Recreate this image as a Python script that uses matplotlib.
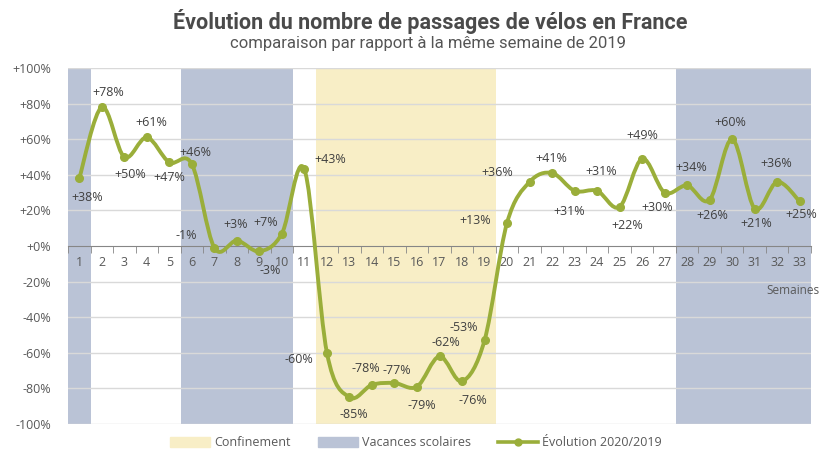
import numpy as np
import matplotlib
matplotlib.use('Agg')
import matplotlib.pyplot as plt
from matplotlib.path import Path
from matplotlib.patches import PathPatch, Patch
from matplotlib.lines import Line2D

weeks = list(range(1, 34))
evolution = [38, 78, 50, 61, 47, 46, -1, 3, -3, 7, 43, -60, -85, -78, -77, -79, -62,
             -76, -53, 13, 36, 41, 31, 31, 22, 49, 30, 34, 26, 60, 21, 36, 25]
vacances = [(1, 1), (6, 10), (28, 33)]
confinement = [(12, 19)]

# label offsets in pixels (dx, dy)
offsets = [(8, -19), (6, 15), (6, -18), (5, 15), (0, -15), (4, 12), (-28, 12), (-1, 16),
           (11, -19), (-16, 11), (26, 10), (-28, -7), (4, -17), (-6, 16), (2, 13), (5, -19),
           (6, 14), (11, -19), (-21, 13), (-32, 2), (-32, 9), (-1, 15), (-5, -21), (4, 19),
           (8, -19), (0, 23), (-7, -15), (4, 18), (3, -16), (-2, 17), (2, -15), (-1, 18),
           (2, -13)]

GREEN = '#9aae3a'
BLUE = '#bac3d6'
YELLOW = '#f8eec6'
GREY = '#595959'
FONT = ['Open Sans', 'DejaVu Sans']
plt.rcParams['font.family'] = FONT

fig = plt.figure(figsize=(8.19, 4.5), dpi=100)
ax = fig.add_axes([68/819, 1-424/450, (811-68)/819, (424-68)/450])

for a, b in vacances:
    ax.axvspan(a - 0.5, b + 0.5, color=BLUE, lw=0, zorder=0)
for a, b in confinement:
    ax.axvspan(a - 0.5, b + 0.5, color=YELLOW, lw=0, zorder=0)

for v in range(-100, 101, 20):
    if v != 0:
        ax.axhline(v, color='#d9d9d9', lw=1, zorder=1)

# smoothed line (Excel-like bezier through the points)
x = np.array(weeks, dtype=float)
y = np.array(evolution, dtype=float)
pts = np.column_stack([x, y])
ext = np.vstack([pts[0], pts, pts[-1]])
verts = [tuple(pts[0])]
codes = [Path.MOVETO]
for i in range(len(pts) - 1):
    p0, p1, p2, p3 = ext[i], ext[i+1], ext[i+2], ext[i+3]
    c1 = p1 + (p2 - p0) / 6
    c2 = p2 - (p3 - p1) / 6
    verts += [tuple(c1), tuple(c2), tuple(p2)]
    codes += [Path.CURVE4] * 3
ax.add_patch(PathPatch(Path(verts, codes), fill=False, edgecolor=GREEN, lw=2.8,
                       zorder=3, capstyle='round', joinstyle='round'))
ax.plot(x, y, 'o', color=GREEN, ms=5.5, zorder=4)

for xi, v, (dx, dy) in zip(weeks, evolution, offsets):
    ax.annotate(f'{v:+d}%', (xi, v), xytext=(dx, dy), textcoords='offset pixels',
                ha='center', va='center', fontsize=9, color='#404040', zorder=5)

ax.set_xlim(0.5, 33.5)
ax.set_ylim(-100, 100)
for s in ['top', 'right', 'left']:
    ax.spines[s].set_visible(False)
ax.spines['bottom'].set_position(('data', 0))
ax.spines['bottom'].set_color('#868686')
ax.spines['bottom'].set_zorder(2)
ax.set_xticks(weeks)
ax.set_xticklabels([str(w) for w in weeks])
ax.set_xticks(np.arange(0.5, 34, 1), minor=True)
ax.tick_params(axis='x', which='major', length=0, pad=7, labelsize=9, labelcolor=GREY)
ax.tick_params(axis='x', which='minor', length=5, color='#868686')
ax.set_yticks(range(-100, 101, 20))
ax.set_yticklabels([f'{v:+d}%' for v in range(-100, 101, 20)])
ax.tick_params(axis='y', length=0, pad=12, labelsize=9, labelcolor=GREY)

ax.text(1.012, 0.376, 'Semaines', transform=ax.transAxes, ha='right', va='center',
        fontsize=8.5, color=GREY)

fig.text(0.525, 0.953, 'Évolution du nombre de passages de vélos en France', ha='center',
         va='center', fontsize=15.5, fontweight='bold', color='#4a4a4a',
         family=['Roboto', 'DejaVu Sans'])
fig.text(0.523, 0.903, 'comparaison par rapport à la même semaine de 2019', ha='center',
         va='center', fontsize=12, color='#555555', family=['Roboto', 'DejaVu Sans'])

handles = [Patch(color=YELLOW), Patch(color=BLUE),
           Line2D([], [], color=GREEN, lw=2.6, marker='o', ms=5, markevery=[1])]
handles[2].set_data([0, 0.5, 1], [0, 0, 0])
fig.legend(handles, ['Confinement', 'Vacances scolaires', 'Évolution 2020/2019'],
           loc='center', bbox_to_anchor=(0.508, 0.016), ncol=3, frameon=False,
           fontsize=9, labelcolor=GREY, handlelength=3.2, handleheight=0.8,
           columnspacing=2.2, handletextpad=0.3)

fig.savefig('out.png', dpi=100)
